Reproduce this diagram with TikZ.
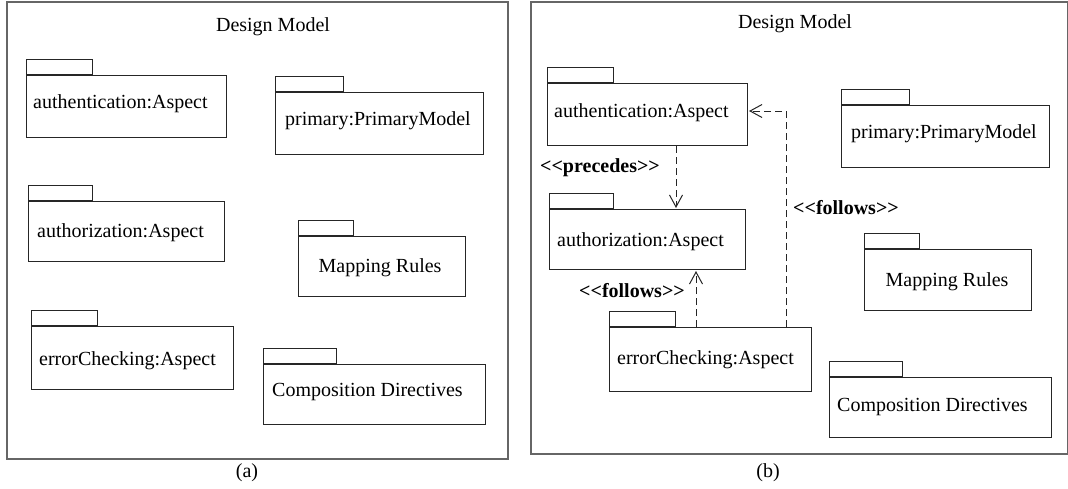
\documentclass[tikz,border=0pt]{standalone}
\usepackage{fontspec}
\setmainfont{Liberation Serif}
\usetikzlibrary{arrows.meta,calc}
\tikzset{
  pkgbody/.style={draw=black!85, line width=1pt, rectangle, inner sep=0pt, anchor=north west},
  pkgtab/.style={draw=black!85, line width=1pt, rectangle, inner sep=0pt, anchor=south west, minimum height=15pt},
  txt/.style={font=\fontsize{20}{24}\selectfont, inner sep=0pt, text height=14pt, text depth=4.4pt},
  stereo/.style={font=\fontsize{20}{24}\selectfont\bfseries, inner sep=0pt, text height=14pt, text depth=4.4pt},
  framebox/.style={draw=black!60, line width=1.5pt, rectangle, inner sep=0pt, anchor=north west},
  dep/.style={draw=black!85, line width=1pt, dash pattern=on 7pt off 4pt, -{Straight Barb[length=12pt,width=13pt]}, shorten >=1pt}
}
\newcommand\umlpkg[9]{%
  \node[pkgbody, minimum width=#4pt, minimum height=#5pt] (#1) at (#2,#3) {};
  \node[pkgtab, minimum width=#6pt] (#1tab) at (#1.north west) {};
  \node[txt, anchor=west] (#1txt) at (#7,#8) {#9};
}
\begin{document}
\begin{tikzpicture}[x=1pt,y=-1pt]
\useasboundingbox (0,0) rectangle (1068,488);
\fill[white] (0,0) rectangle (1068,488);
% ---------- panel (a)
\node[framebox, minimum width=501pt, minimum height=457pt] (frameA) at (6,1) {};
\node[txt] (titleA) at (273,27) {Design Model};
\node[txt] (capA) at (247,473) {(a)};
\umlpkg{authA}{26}{75}{200}{62}{66}{33}{104}{authentication:Aspect}
\umlpkg{primA}{275}{92}{208}{62}{68}{285}{121}{primary:PrimaryModel}
\umlpkg{authzA}{28}{201}{196}{60}{64}{37}{233}{authorization:Aspect}
\umlpkg{mapA}{298}{236}{167}{60}{55}{318.5}{268}{Mapping Rules}
\umlpkg{errA}{31}{326}{202}{63}{66}{39}{361}{errorChecking:Aspect}
\umlpkg{compA}{263}{364}{222}{60}{73}{272}{392}{Composition Directives}
% ---------- panel (b)
\node[framebox, minimum width=537pt, minimum height=452pt] (frameB) at (530,1) {};
\node[txt] (titleB) at (795,24) {Design Model};
\node[txt] (capB) at (768,473) {(b)};
\umlpkg{authB}{547}{83}{200}{62}{66}{554}{113}{authentication:Aspect}
\umlpkg{authzB}{549}{209}{196}{60}{64}{557}{242}{authorization:Aspect}
\umlpkg{errB}{609}{327}{202}{64}{66}{617}{360}{errorChecking:Aspect}
\umlpkg{primB}{841}{105}{208}{62}{68}{851}{134}{primary:PrimaryModel}
\umlpkg{mapB}{864}{249}{167}{61}{55}{885.5}{282}{Mapping Rules}
\umlpkg{compB}{829}{377}{222}{60}{73}{837}{407}{Composition Directives}
% connectors
\coordinate (precX) at (676,0);
\coordinate (follX) at (696,0);
\coordinate (bend) at (786,111);
\draw[dep] (authB.south -| precX) -- (authzB.north -| precX);
\draw[dep] (errB.north -| follX) -- (authzB.south -| follX);
\draw[dep] (errB.north -| bend) -- (bend) -- (authB.east |- bend);
\node[stereo] (lblPrec) at (600,168) {<\kern0pt<precedes>\kern0pt>};
\node[stereo] (lblFoll1) at (632,293) {<\kern0pt<follows>\kern0pt>};
\node[stereo] (lblFoll2) at (846,210) {<\kern0pt<follows>\kern0pt>};
\end{tikzpicture}
\end{document}
